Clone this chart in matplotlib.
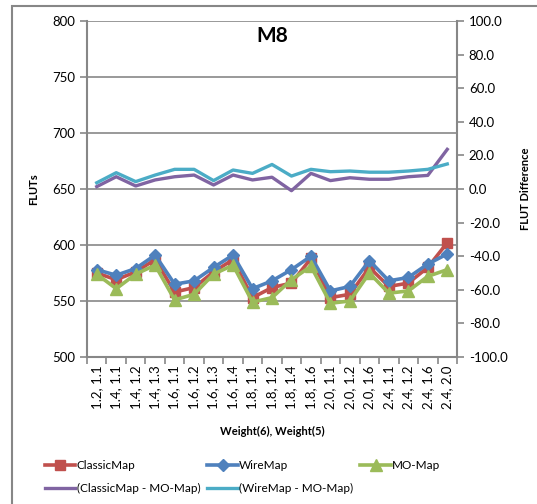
import numpy as np
import matplotlib.pyplot as plt
from matplotlib.patches import Rectangle

plt.rcParams['font.family'] = ['Lato', 'DejaVu Sans']

# Weight(6), Weight(5) の組み合わせ
labels = ['1.2, 1.1', '1.4, 1.1', '1.4, 1.2', '1.4, 1.3', '1.6, 1.1', '1.6, 1.2',
          '1.6, 1.3', '1.6, 1.4', '1.8, 1.1', '1.8, 1.2', '1.8, 1.4', '1.8, 1.6',
          '2.0, 1.1', '2.0, 1.2', '2.0, 1.6', '2.4, 1.1', '2.4, 1.2', '2.4, 1.6',
          '2.4, 2.0']

classic_map = [575, 569, 576, 587, 558, 562, 576, 587, 553, 562, 566, 588,
               553, 556, 580, 563, 566, 580, 602]
wire_map = [578, 573, 579, 591, 565, 568, 580, 591, 561, 568, 578, 590,
            559, 563, 586, 568, 571, 583, 592]
mo_map = [574, 561, 574, 582, 551, 556, 574, 582, 549, 553, 569, 581,
          548, 550, 575, 557, 559, 572, 578]

# 差分 (右軸)
diff_classic_mo = [1.4, 7.3, 1.8, 5.4, 7.3, 8.3, 2.4, 8.3, 5.4, 7.0, -1.0, 9.3,
                   5.0, 6.7, 5.8, 5.8, 7.3, 8.1, 23.6]
diff_wire_mo = [3.7, 9.7, 4.4, 8.3, 11.7, 11.7, 5.0, 11.3, 9.3, 14.6, 7.7, 11.7,
                10.3, 10.7, 10.0, 10.0, 10.7, 11.7, 14.9]

grey = '#878787'
c_red = '#C0504D'
c_blue = '#4F81BD'
c_green = '#9BBB59'
c_purple = '#8064A2'
c_cyan = '#4BACC6'

fig = plt.figure(figsize=(5.37, 5.04), dpi=100)
fig.patches.append(Rectangle((12 / 537, -0.1), 1.2, 1 - 6 / 504 + 0.1,
                             transform=fig.transFigure, fill=False,
                             edgecolor=grey, lw=1.5))

ax1 = fig.add_axes([87 / 537, 1 - 357 / 504, 370 / 537, 336 / 504])
x = np.arange(len(labels))

l1, = ax1.plot(x, classic_map, color=c_red, lw=2.6, marker='s', ms=7, label='ClassicMap')
l2, = ax1.plot(x, wire_map, color=c_blue, lw=2.6, marker='D', ms=6, label='WireMap')
l3, = ax1.plot(x, mo_map, color=c_green, lw=2.6, marker='^', ms=8, label='MO-Map')

ax1.set_xlim(-0.5, len(labels) - 0.5)
ax1.set_ylim(500, 800)
ax1.set_yticks(np.arange(500, 801, 50))
ax1.set_xticks(x)
ax1.set_xticklabels(labels, rotation=90, fontsize=9.5)
ax1.set_xticks(np.arange(-0.5, len(labels)), minor=True)
ax1.tick_params(axis='x', which='major', length=0, pad=6)
ax1.tick_params(axis='x', which='minor', length=5, width=1.2, color=grey, direction='out')
ax1.tick_params(axis='y', length=5, width=1.2, color=grey, direction='out', labelsize=9.5)
ax1.grid(axis='y', color=grey, lw=1.2)
ax1.set_axisbelow(True)
for s in ['top', 'right']:
    ax1.spines[s].set_visible(False)
for s in ['left', 'bottom']:
    ax1.spines[s].set_color(grey)
    ax1.spines[s].set_linewidth(1.5)
ax1.set_ylabel('FLUTs', fontsize=8, fontweight='bold', labelpad=9)
ax1.set_xlabel('Weight(6), Weight(5)', fontsize=8, fontweight='bold', labelpad=12)
ax1.text(0.5, 0.985, 'M8', transform=ax1.transAxes, ha='center', va='top',
         fontsize=15, fontweight='bold')

ax2 = ax1.twinx()
l4, = ax2.plot(x, diff_classic_mo, color=c_purple, lw=2.4, label='(ClassicMap - MO-Map)')
l5, = ax2.plot(x, diff_wire_mo, color=c_cyan, lw=2.4, label='(WireMap - MO-Map)')
ax2.set_ylim(-100, 100)
ax2.set_yticks(np.arange(-100, 101, 20))
ax2.set_yticklabels([f'{v:.1f}' for v in np.arange(-100, 101, 20)])
ax2.tick_params(axis='y', length=5, width=1.2, color=grey, direction='out', labelsize=9.5)
for s in ['top', 'left', 'bottom']:
    ax2.spines[s].set_visible(False)
ax2.spines['right'].set_color(grey)
ax2.spines['right'].set_linewidth(1.5)
ax2.set_ylabel('FLUT Difference', fontsize=8, fontweight='bold', labelpad=9)

fig.legend([l1, l4, l2, l5, l3],
           [h.get_label() for h in [l1, l4, l2, l5, l3]],
           ncol=3, loc='upper left', bbox_to_anchor=(40 / 537, 1 - 455 / 504),
           frameon=False, fontsize=8.5, handlelength=2.6, handletextpad=0.1,
           columnspacing=0.6, labelspacing=1.05, borderaxespad=0)

fig.savefig('out.png', dpi=100)
